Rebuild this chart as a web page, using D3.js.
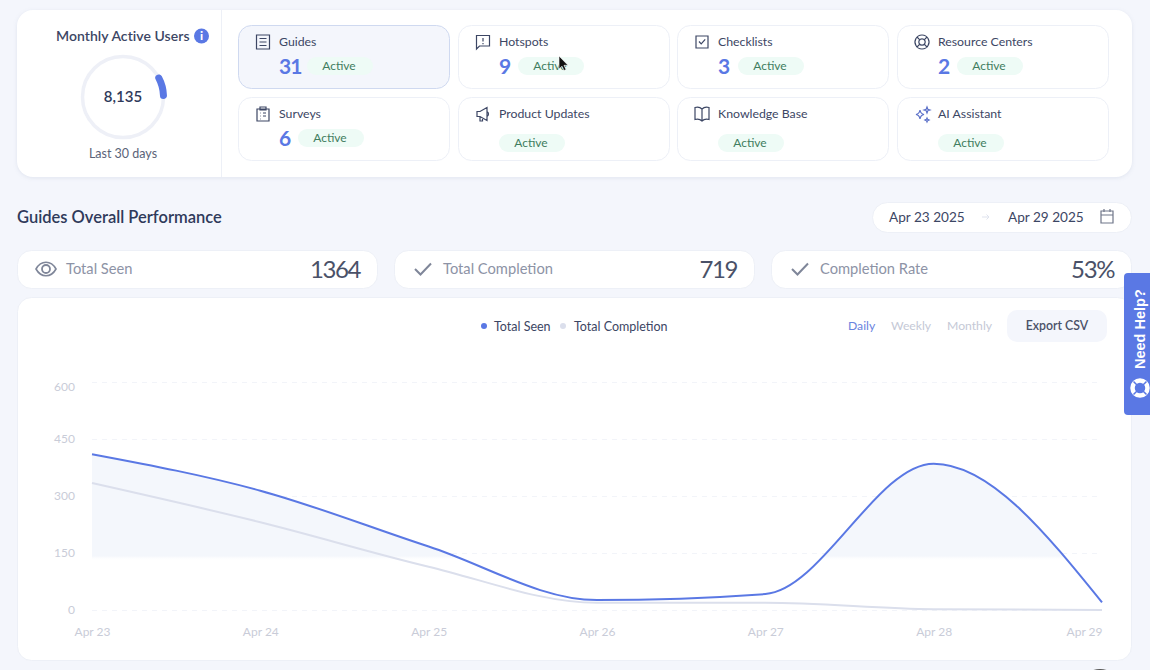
<!DOCTYPE html>
<html>
<head>
<meta charset="utf-8">
<script src="https://cdn.jsdelivr.net/npm/d3@7"></script>
<style>
  html, body { margin: 0; padding: 0; background: #f4f6fc; overflow: hidden; }
  svg { display: block; font-family: Lato, "Noto Sans", sans-serif; }
  .axis path { display: none; }
  .axis text { fill: #c9ccd8; font-size: 12px; font-family: Lato, sans-serif; }
</style>
</head>
<body>
<div id="chart"></div>
<script>
const days = ["Apr 23", "Apr 24", "Apr 25", "Apr 26", "Apr 27", "Apr 28", "Apr 29"];
const totalSeen = [410, 314, 167, 26, 42, 385, 20];
const totalCompletion = [334, 231, 114, 19, 19, 2, 0];
const yTicks = [0, 150, 300, 450, 600];

const tileNames = ["Guides", "Hotspots", "Checklists", "Resource Centers", "Surveys", "Product Updates", "Knowledge Base", "AI Assistant"];
const tileCounts = [31, 9, 3, 2, 6, null, null, null];
const statNames = ["Total Seen", "Total Completion", "Completion Rate"];
const statValues = ["1364", "719", "53%"];
const periods = ["Daily", "Weekly", "Monthly"];

const dark = "#2f3a5a", muted = "#7f8699", blue = "#5a78e4", line2 = "#dbdfec", border = "#edf0f7";

const svg = d3.select("#chart").append("svg").attr("width", 1150).attr("height", 670);

function card(x, y, w, h, r, fill = "#fff", stroke = border) {
  return svg.append("rect").attr("x", x).attr("y", y).attr("width", w).attr("height", h)
    .attr("rx", r).attr("fill", fill).attr("stroke", stroke);
}
function label(parent, x, y, str, size, color, weight = 400, anchor = "start") {
  return parent.append("text").attr("x", x).attr("y", y).attr("dy", ".36em")
    .attr("font-size", size).attr("fill", color).attr("font-weight", weight)
    .attr("text-anchor", anchor).text(str);
}

// top panel
card(17, 10, 1115, 167, 16, "#fff", "none").style("filter", "drop-shadow(0 1px 2px rgba(60,80,130,.10))");
svg.append("line").attr("x1", 221.5).attr("x2", 221.5).attr("y1", 10).attr("y2", 177).attr("stroke", border);

label(svg, 56, 36, "Monthly Active Users", 14, "#3c4664", 600).style("letter-spacing", ".05px");
svg.append("circle").attr("cx", 201.5).attr("cy", 36).attr("r", 7.5).attr("fill", blue);
label(svg, 201.5, 36, "i", 12, "#fff", 900, "middle");

const ring = svg.append("g").attr("transform", "translate(123,97)");
ring.append("circle").attr("r", 40.5).attr("fill", "none").attr("stroke", "#eef0f7").attr("stroke-width", 3.5);
ring.append("path").attr("fill", blue)
  .attr("d", d3.arc().innerRadius(37).outerRadius(44).cornerRadius(3.5)
    .startAngle(57 * Math.PI / 180).endAngle(93 * Math.PI / 180)());
label(svg, 123, 97, "8,135", 15, dark, 600, "middle");
label(svg, 123, 153, "Last 30 days", 12.5, "#5b6378", 400, "middle");

// feature tiles
const colX = [238, 458, 677, 897];
const rowY = [25, 97];
const tileIcons = [
  "M-6.5-7h13v14h-13zM-3.5-3.5h7M-3.5 0h7M-3.5 3.5h7",
  "M-6.5-6.5h13v10.5h-10l-3 3zM0-4v3.5M0 1v1.2",
  "M-6-6h12v12h-12zM-3-.5l2.2 2.4 4-4.6",
  "M0-7a7 7 0 1 0 .01 0zM0-3.2a3.2 3.2 0 1 0 .01 0zM-5-5l2.8 2.8M5-5l-2.8 2.8M-5 5l2.8-2.8M5 5l-2.8-2.8",
  "M-6-5h12v12h-12zM-3-7h6v3h-6zM-3-1h.6M-3 2h.6M-3 5h.6M0-1h3M0 2h3",
  "M-6-2.5h3l7-4v13l-7-4h-3zM-3 2.5v4.5h2.5V3.5M4-2.5c2 1 2 4 0 5",
  "M0-5C-2-7-5-7-7-6.5v12c2-.5 5-.5 7 1.500 2-2 5-2 7-1.500v-12C5-7 2-7 0-5zM0-5V7",
  "M-2-4c.5 3 1.500 4 4 4.500-2.500.5-3.500 1.500-4 4.500-.5-3-1.500-4-4-4.500 2.500-.5 3.500-1.500 4-4.500zM5-7l.8 2.200L8-4l-2.200.8L5-1l-.8-2.200L2-4l2.200-.8zM5 4l.6 1.400L7 6l-1.400.6L5 8l-.6-1.400L3 6l1.400-.6z"
];
const pillX = [307, 518, 738, 957, 298, 499, 718, 938];

tileNames.forEach((name, i) => {
  const col = i % 4, row = Math.floor(i / 4);
  const x = colX[col], y = rowY[row];
  const active = i === 0;
  card(x + .5, y + .5, 211, 63, 13, active ? "#f4f6fc" : "#fff", active ? "#cfd9f0" : border);
  svg.append("path").attr("transform", `translate(${x + 25},${y + 17})`)
    .attr("d", tileIcons[i]).attr("fill", "none").attr("stroke-width", 1.2)
    .attr("stroke", i === 7 ? "#5a6fc8" : "#3c4664");
  label(svg, x + 41, y + 17, name, 12.3, "#3c4664");
  const count = tileCounts[i];
  if (count !== null) label(svg, x + 41, y + 41, count, 21, blue, 700).style("letter-spacing", "-1px");
  const pillY = count !== null ? y + 32 : y + 37;
  svg.append("rect").attr("x", pillX[i]).attr("y", pillY).attr("width", 66).attr("height", 18)
    .attr("rx", 9).attr("fill", "#eefbf6");
  label(svg, pillX[i] + 32, pillY + 9, "Active", 12, "#3f7d60", 400, "middle");
});

// section header and date picker
label(svg, 17, 217, "Guides Overall Performance", 16.5, dark, 600);
card(872.500, 202.500, 259, 30, 15);
label(svg, 889, 217, "Apr 23 2025", 13.6, "#3c4664");
label(svg, 1008, 217, "Apr 29 2025", 13.6, "#3c4664");
svg.append("path").attr("d", "M982 217h7M986.500 214.500l2.500 2.500-2.500 2.500").attr("fill", "none").attr("stroke", "#dfe3ee");
svg.append("path").attr("d", "M1101 211h12v12h-12zM1101 215h12M1104 209v3M1110 209v3")
  .attr("fill", "none").attr("stroke", "#6f7689").attr("stroke-width", 1.2);

// stat cards
const statX = [17, 394, 771];
statNames.forEach((name, i) => {
  card(statX[i] + .5, 250.500, 360, 38, 14);
  if (i === 0) {
    svg.append("circle").attr("cx", 46).attr("cy", 269).attr("r", 4).attr("fill", "none").attr("stroke", "#7f8699").attr("stroke-width", 1.8);
    svg.append("path").attr("d", "M36 269c5-9 15-9 20 0c-5 9-15 9-20 0z").attr("fill", "none").attr("stroke", "#7f8699").attr("stroke-width", 1.6);
  } else {
    svg.append("path").attr("d", `M${statX[i] + 21} 269l5.500 5.500 10.500-11`).attr("fill", "none").attr("stroke", "#7f8699").attr("stroke-width", 2);
  }
  label(svg, statX[i] + 49, 269, name, 14.7, "#8d93a6");
  label(svg, statX[i] + 343, 269, statValues[i], 24, "#4a5168", 400, "end").style("letter-spacing", "-1.4px");
});

// chart panel
card(17.500, 297.500, 1114, 363, 14);

svg.append("circle").attr("cx", 484).attr("cy", 326).attr("r", 3).attr("fill", blue);
label(svg, 494, 326, "Total Seen", 12.5, "#3c4664");
svg.append("circle").attr("cx", 563).attr("cy", 326).attr("r", 3).attr("fill", line2);
label(svg, 574, 326, "Total Completion", 12.5, "#3c4664");

const periodX = [848, 891, 947];
periods.forEach((p, i) => label(svg, periodX[i], 326, p, 12.2, i === 0 ? "#6a84e0" : "#c5c9d6"));
card(1007, 310, 100, 32, 10, "#f4f6fc", "none");
label(svg, 1057, 326, "Export CSV", 12.3, "#4a5168", 600, "middle");

const x = d3.scalePoint().domain(days).range([92, 1102]);
const y = d3.scaleLinear().domain([0, 600]).range([610, 382]);

// dashed grid with tick labels on the left
const yAxis = svg.append("g").attr("class", "axis").attr("transform", "translate(92,0)")
  .call(d3.axisLeft(y).tickValues(yTicks).tickSize(-1006).tickPadding(17).tickFormat(d3.format("d")));
yAxis.selectAll("line").attr("stroke", "#f2f4f9").attr("stroke-dasharray", "5 5");
yAxis.selectAll("text").filter(d => d === 600).attr("dy", "0.72em");

const xAxis = svg.append("g").attr("class", "axis").attr("transform", "translate(0,626)")
  .call(d3.axisBottom(x).tickSize(0).tickPadding(1));
xAxis.selectAll("text").filter(d => d === "Apr 29").attr("text-anchor", "end").attr("dx", 0);

// area under seen line fades out just below the 150 gridline
const grad = svg.append("defs").append("linearGradient").attr("id", "seenFill")
  .attr("gradientUnits", "userSpaceOnUse").attr("x1", 0).attr("x2", 0).attr("y1", y(450)).attr("y2", y(0));
const fadeAt = v => (y(v) - y(450)) / (y(0) - y(450));
grad.append("stop").attr("offset", 0).attr("stop-color", "#f4f7fc");
grad.append("stop").attr("offset", fadeAt(142)).attr("stop-color", "#f4f7fc");
grad.append("stop").attr("offset", fadeAt(130)).attr("stop-color", "#fff").attr("stop-opacity", 0);

const curve = d3.curveMonotoneX;
const area = d3.area().x((d, i) => x(days[i])).y0(y(0)).y1(d => y(d)).curve(curve);
const line = d3.line().x((d, i) => x(days[i])).y(d => y(d)).curve(curve);

svg.append("path").datum(totalSeen).attr("d", area).attr("fill", "url(#seenFill)");
svg.append("path").datum(totalCompletion).attr("d", line).attr("fill", "none").attr("stroke", line2).attr("stroke-width", 2);
svg.append("path").datum(totalSeen).attr("d", line).attr("fill", "none").attr("stroke", blue).attr("stroke-width", 2);

// help tab
svg.append("path").attr("d", "M1150 273h-22a4 4 0 0 0-4 4v134a4 4 0 0 0 4 4h22z").attr("fill", blue);
svg.append("text").attr("transform", "translate(1145,369) rotate(-90)")
  .attr("font-size", 14.5).attr("font-weight", 700).attr("fill", "#fff").attr("font-family", "Liberation Sans, sans-serif").text("Need Help?");
svg.append("circle").attr("cx", 1140).attr("cy", 388).attr("r", 7.5).attr("fill", "none").attr("stroke", "#fff").attr("stroke-width", 4.5);
svg.append("path").attr("d", "M1133.500 381.500l3.500 3.500M1146.500 381.500l-3.500 3.500M1133.500 394.500l3.500-3.500M1146.500 394.500l-3.500-3.500")
  .attr("stroke", blue).attr("stroke-width", 1.5);

// mouse pointer and the widget peeking at the bottom
svg.append("path").attr("d", "M559 56v13l3-2.800 2 4.300 2-1-2-4.200h4z").attr("fill", "#111").attr("stroke", "#fff").attr("stroke-width", .6);
svg.append("circle").attr("cx", 1100).attr("cy", 691).attr("r", 22).attr("fill", "#555");
</script>
</body>
</html>
